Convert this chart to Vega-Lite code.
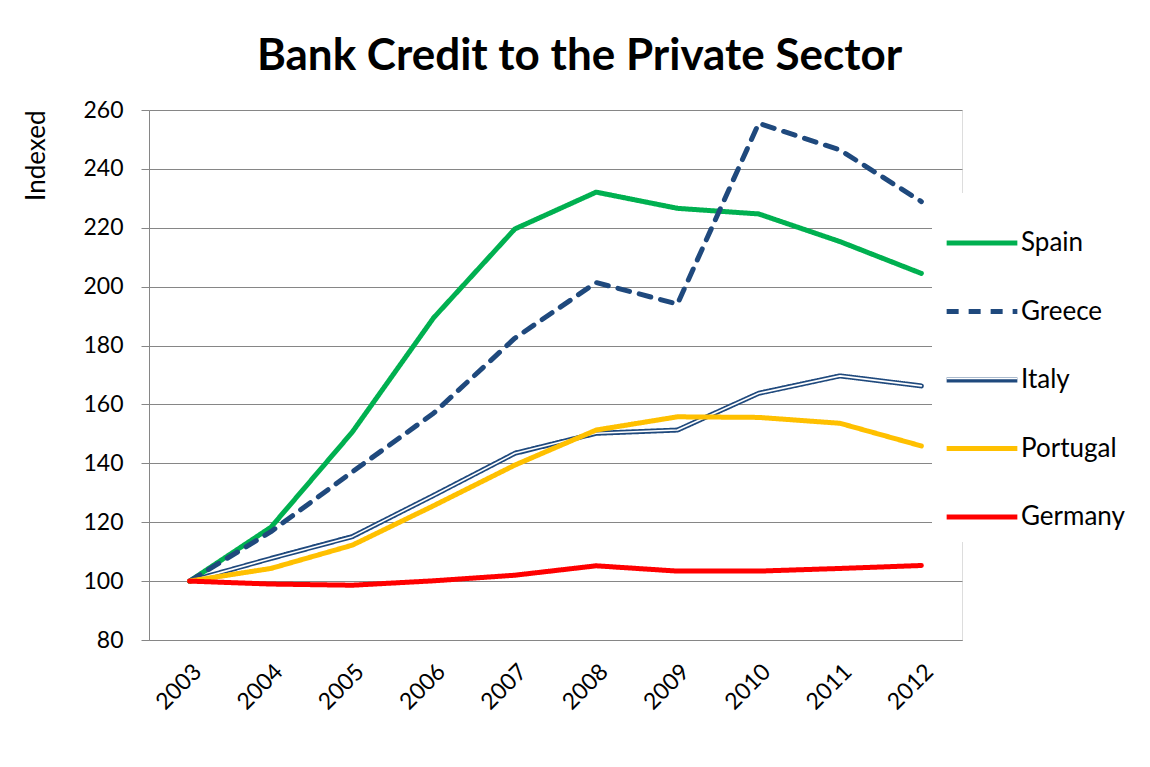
{
  "$schema": "https://vega.github.io/schema/vega-lite/v6.json",
  "width": 813,
  "height": 530,
  "autosize": "none",
  "padding": {"left": 149, "top": 110, "right": 188, "bottom": 127},
  "background": "white",
  "title": {
    "text": "Bank Credit to the Private Sector",
    "font": "Lato",
    "fontSize": 44,
    "fontWeight": "bold",
    "color": "black",
    "anchor": "middle",
    "dx": 24,
    "offset": 20
  },
  "data": {
    "values": [
      {"year": "2003", "series": "Spain", "value": 100},
      {"year": "2004", "series": "Spain", "value": 118.3},
      {"year": "2005", "series": "Spain", "value": 150.6},
      {"year": "2006", "series": "Spain", "value": 189.4},
      {"year": "2007", "series": "Spain", "value": 219.6},
      {"year": "2008", "series": "Spain", "value": 232.1},
      {"year": "2009", "series": "Spain", "value": 226.6},
      {"year": "2010", "series": "Spain", "value": 224.7},
      {"year": "2011", "series": "Spain", "value": 215.3},
      {"year": "2012", "series": "Spain", "value": 204.5},
      {"year": "2003", "series": "Greece", "value": 100},
      {"year": "2004", "series": "Greece", "value": 116.8},
      {"year": "2005", "series": "Greece", "value": 137.1},
      {"year": "2006", "series": "Greece", "value": 157},
      {"year": "2007", "series": "Greece", "value": 182.5},
      {"year": "2008", "series": "Greece", "value": 201.4},
      {"year": "2009", "series": "Greece", "value": 194.1},
      {"year": "2010", "series": "Greece", "value": 255.5},
      {"year": "2011", "series": "Greece", "value": 246.4},
      {"year": "2012", "series": "Greece", "value": 228.9},
      {"year": "2003", "series": "Italy", "value": 100},
      {"year": "2004", "series": "Italy", "value": 107.7},
      {"year": "2005", "series": "Italy", "value": 115.1},
      {"year": "2006", "series": "Italy", "value": 129.1},
      {"year": "2007", "series": "Italy", "value": 143.4},
      {"year": "2008", "series": "Italy", "value": 150.2},
      {"year": "2009", "series": "Italy", "value": 151.3},
      {"year": "2010", "series": "Italy", "value": 163.8},
      {"year": "2011", "series": "Italy", "value": 169.7},
      {"year": "2012", "series": "Italy", "value": 166.3},
      {"year": "2003", "series": "Portugal", "value": 100},
      {"year": "2004", "series": "Portugal", "value": 104.3},
      {"year": "2005", "series": "Portugal", "value": 112.2},
      {"year": "2006", "series": "Portugal", "value": 125.6},
      {"year": "2007", "series": "Portugal", "value": 139.4},
      {"year": "2008", "series": "Portugal", "value": 151.3},
      {"year": "2009", "series": "Portugal", "value": 155.8},
      {"year": "2010", "series": "Portugal", "value": 155.6},
      {"year": "2011", "series": "Portugal", "value": 153.6},
      {"year": "2012", "series": "Portugal", "value": 145.9},
      {"year": "2003", "series": "Germany", "value": 100},
      {"year": "2004", "series": "Germany", "value": 99},
      {"year": "2005", "series": "Germany", "value": 98.6},
      {"year": "2006", "series": "Germany", "value": 100.1},
      {"year": "2007", "series": "Germany", "value": 102},
      {"year": "2008", "series": "Germany", "value": 105.2},
      {"year": "2009", "series": "Germany", "value": 103.4},
      {"year": "2010", "series": "Germany", "value": 103.4},
      {"year": "2011", "series": "Germany", "value": 104.3},
      {"year": "2012", "series": "Germany", "value": 105.3}
    ]
  },
  "encoding": {
    "x": {
      "field": "year",
      "type": "ordinal",
      "sort": null,
      "scale": {"type": "point", "padding": 0.5},
      "axis": {
        "title": null,
        "labelAngle": -45,
        "labelFont": "Lato",
        "labelFontSize": 23,
        "labelColor": "black",
        "labelPadding": 20,
        "ticks": false,
        "domainColor": "#868686",
        "domainWidth": 1,
        "grid": false
      }
    },
    "y": {
      "field": "value",
      "type": "quantitative",
      "scale": {"domain": [80, 260], "nice": false, "zero": false},
      "axis": {
        "title": "Indexed",
        "titleFont": "Lato",
        "titleFontSize": 26,
        "titleFontWeight": "normal",
        "titleColor": "black",
        "titleAngle": 270,
        "titleX": -113,
        "titleY": 0,
        "titleAlign": "right",
        "titleBaseline": "middle",
        "values": [80, 100, 120, 140, 160, 180, 200, 220, 240, 260],
        "labelFont": "Lato",
        "labelFontSize": 23,
        "labelColor": "black",
        "labelPadding": 18,
        "tickSize": 8,
        "tickColor": "#868686",
        "domainColor": "#868686",
        "grid": true,
        "gridColor": "#868686",
        "gridWidth": 1
      }
    }
  },
  "layer": [
    {
      "transform": [{"filter": "datum.series === 'Spain' || datum.series === 'Greece' || datum.series === 'Italy'"}],
      "mark": {"type": "line", "strokeWidth": 5, "strokeCap": "round", "strokeJoin": "round"},
      "encoding": {
        "color": {
          "field": "series",
          "type": "nominal",
          "scale": {
            "domain": ["Spain", "Greece", "Italy", "Portugal", "Germany"],
            "range": ["#00B050", "#1F497D", "#1F497D", "#FFC000", "#FF0000"]
          },
          "legend": {
            "title": null,
            "orient": "none",
            "legendX": 783,
            "legendY": 83,
            "fillColor": "white",
            "padding": 12,
            "zindex": 1,
            "symbolType": "stroke",
            "symbolSize": 5000,
            "symbolStrokeWidth": 5,
            "labelFont": "Lato",
            "labelFontSize": 26,
            "labelColor": "black",
            "labelOffset": 1,
            "rowPadding": 17.5
          }
        },
        "strokeDash": {
          "field": "series",
          "type": "nominal",
          "scale": {
            "domain": ["Spain", "Greece", "Italy", "Portugal", "Germany"],
            "range": [[1, 0], [12, 10], [1, 0], [1, 0], [1, 0]]
          },
          "legend": {
            "title": null,
            "orient": "none",
            "legendX": 783,
            "legendY": 83,
            "fillColor": "white",
            "padding": 12,
            "zindex": 1,
            "symbolType": "stroke",
            "symbolSize": 5000,
            "symbolStrokeWidth": 5,
            "labelFont": "Lato",
            "labelFontSize": 26,
            "labelColor": "black",
            "labelOffset": 1,
            "rowPadding": 17.5
          }
        }
      }
    },
    {
      "transform": [{"filter": "datum.series === 'Italy'"}],
      "mark": {"type": "line", "strokeWidth": 1.6, "strokeCap": "round", "strokeJoin": "round"},
      "encoding": {
        "stroke": {
          "field": "series",
          "type": "nominal",
          "scale": {
            "domain": ["Spain", "Greece", "Italy"],
            "range": ["transparent", "transparent", "white"]
          },
          "legend": {
            "title": null,
            "orient": "none",
            "legendX": 784.5,
            "legendY": 220,
            "padding": 12,
            "zindex": 2,
            "symbolType": "stroke",
            "symbolSize": 5000,
            "symbolStrokeWidth": 1.6,
            "symbolStrokeColor": "white",
            "symbolOpacity": 1,
            "labelExpr": "''",
            "labelFont": "Lato",
            "labelFontSize": 26,
            "labelOffset": 1,
            "rowPadding": 17.5,
            "values": ["Italy"],
            "offset": 0
          }
        }
      }
    },
    {
      "transform": [{"filter": "datum.series === 'Portugal' || datum.series === 'Germany'"}],
      "mark": {"type": "line", "strokeWidth": 5, "strokeCap": "round", "strokeJoin": "round"},
      "encoding": {
        "color": {"field": "series", "type": "nominal"},
        "strokeDash": {"field": "series", "type": "nominal"}
      }
    }
  ]
}
